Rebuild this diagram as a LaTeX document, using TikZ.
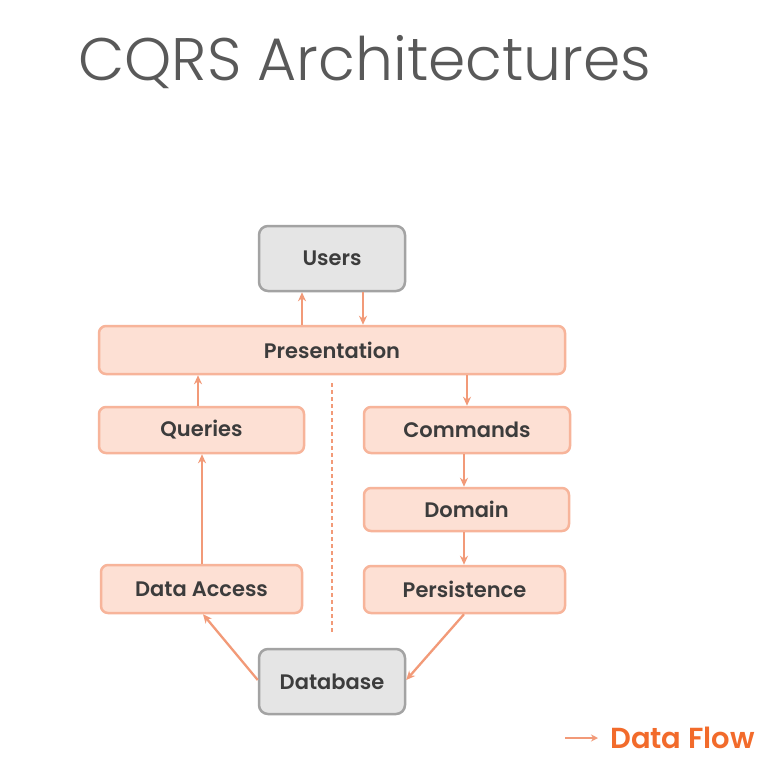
\documentclass[tikz,border=0pt]{standalone}
\usepackage{fontspec}
\setmainfont{Poppins}
\newfontfamily\titlefont{Poppins Light}
\newfontfamily\labelfont{Poppins SemiBold}
\usetikzlibrary{arrows.meta}
\definecolor{boxfill}{HTML}{FDE0D4}
\definecolor{boxline}{HTML}{F7B49A}
\definecolor{grayfill}{HTML}{E5E5E5}
\definecolor{grayline}{HTML}{A3A3A3}
\definecolor{flow}{HTML}{F29A78}
\definecolor{txt}{HTML}{3C3C3C}
\definecolor{legendc}{HTML}{F26B2B}
\tikzset{
  layerbox/.style={draw=boxline, fill=boxfill, line width=2.5pt, rounded corners=7pt, text=txt, font=\labelfont\fontsize{21}{24}\selectfont, inner sep=0pt},
  endbox/.style={draw=grayline, fill=grayfill, line width=2.5pt, rounded corners=9pt, text=txt, font=\labelfont\fontsize{21}{24}\selectfont, inner sep=0pt},
  flowarrow/.style={draw=flow, line width=2.3pt, -{Stealth[length=9pt,width=8pt]}},
}
\begin{document}
\begin{tikzpicture}[x=1pt,y=-1pt]
\useasboundingbox[fill=white] (0,0) rectangle (778,776);
\node[anchor=base west, text=txt!85, font=\titlefont\fontsize{60}{66}\selectfont, inner sep=0pt] (title) at (78,81) {CQRS Architectures};

\node[endbox, minimum width=146pt, minimum height=65pt] (users) at (332,258.5) {Users};
\node[layerbox, minimum width=466pt, minimum height=48pt] (pres) at (332,350) {Presentation};
\node[layerbox, minimum width=205pt, minimum height=46pt] (queries) at (201.5,430) {Queries};
\node[layerbox, minimum width=206pt, minimum height=46pt] (commands) at (467,430) {Commands};
\node[layerbox, minimum width=205pt, minimum height=43pt] (domain) at (466.5,509.5) {Domain};
\node[layerbox, minimum width=201pt, minimum height=48pt] (dataacc) at (201.5,589) {Data Access};
\node[layerbox, minimum width=201pt, minimum height=47pt] (persist) at (464.5,589.5) {Persistence};
\node[endbox, minimum width=146pt, minimum height=65pt] (db) at (332,681.5) {Database};

\draw[flowarrow] (pres.north -| 302,0) -- (users.south -| 302,0);
\draw[flowarrow] (users.south -| 363,0) -- (pres.north -| 363,0);
\draw[flowarrow] (queries.north -| 198,0) -- (pres.south -| 198,0);
\draw[flowarrow] (pres.south -| 467,0) -- (commands.north -| 467,0);
\draw[flowarrow] (commands.south -| 464,0) -- (domain.north -| 464,0);
\draw[flowarrow] (domain.south -| 464,0) -- (persist.north -| 464,0);
\draw[flowarrow] (dataacc.north -| 202,0) -- (queries.south -| 202,0);
\draw[flowarrow] (db.west |- 0,680) -- (dataacc.south -| 203,0);
\draw[flowarrow] (persist.south -| 464,0) -- (db.east |- 0,680);

\coordinate (dtop) at (332,383);
\coordinate (dbot) at (332,632);
\draw[draw=flow, line width=1.3pt, dash pattern=on 4pt off 3pt] (dtop) -- (dbot);

\coordinate (la) at (565,738);
\coordinate (lb) at (598,738);
\draw[flowarrow, line width=1.7pt, -{Stealth[length=7pt,width=7pt]}] (la) -- (lb);
\node[anchor=base west, text=legendc, font=\labelfont\fontsize{29}{32}\selectfont, inner sep=0pt] (legend) at (610,748) {Data Flow};
\end{tikzpicture}
\end{document}
